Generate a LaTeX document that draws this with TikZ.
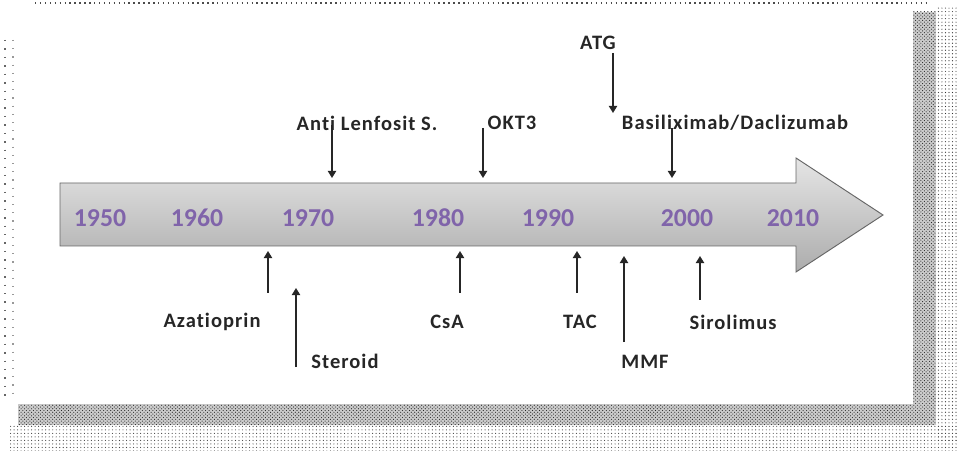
\documentclass[tikz,border=0pt]{standalone}
\usepackage{fontspec}
\setmainfont{Carlito}[Ligatures=NoCommon]
\usetikzlibrary{arrows.meta,patterns}
\definecolor{yrcol}{RGB}{128,100,170}
\begin{document}
\begin{tikzpicture}[x=0.03cm,y=-0.03cm,
 lbl/.style={font=\fontsize{17.5}{19}\selectfont\bfseries\addfontfeatures{LetterSpace=5}, text=black!85, inner sep=0pt},
 yr/.style={font=\fontsize{22}{24}\selectfont\bfseries, text=yrcol, inner sep=0pt},
 ptr/.style={line width=1.3pt, draw=black!85, -{Triangle[width=7pt,length=6pt]}}]
\useasboundingbox (0,0) rectangle (957,458);
\fill[white] (0,0) rectangle (957,458);
% halftone shadow
\fill[gray!40] (913,12) rectangle (936,404);
\fill[pattern=crosshatch dots, pattern color=black!85] (913,12) rectangle (936,404);
\fill[pattern=dots, pattern color=black!80] (936,8) rectangle (957,440);
\fill[gray!40] (18,404) rectangle (936,425);
\fill[pattern=crosshatch dots, pattern color=black!85] (18,404) rectangle (936,425);
\fill[pattern=dots, pattern color=black!75] (10,425) rectangle (957,450);
\draw[black!70, line width=1.2pt, dash pattern=on 1.2pt off 3pt] (35,3) -- (930,3);
\draw[black!60, line width=1.2pt, dash pattern=on 1.2pt off 6pt] (5,40) -- (5,400);
\draw[black!40, line width=1pt, dash pattern=on 1pt off 6pt] (13,40) -- (13,400);
% big timeline arrow
\path[top color=gray!20, middle color=white, bottom color=gray!65, draw=gray!80!black, line width=0.8pt]
  (60,183) -- (796,183) -- (796,158) -- (883,215) -- (796,272) -- (796,246) -- (60,246) -- cycle;
% years
\node[yr] (y1950) at (100,218) {1950};
\node[yr] (y1960) at (197,218) {1960};
\node[yr] (y1970) at (308,218) {1970};
\node[yr] (y1980) at (438,218) {1980};
\node[yr] (y1990) at (548,218) {1990};
\node[yr] (y2000) at (687,218) {2000};
\node[yr] (y2010) at (793,218) {2010};
% upper labels
\node[lbl] (als) at (367,123) {Anti Lenfosit S.};
\node[lbl] (okt) at (512,123) {OKT3};
\node[lbl] (atg) at (598,43) {ATG};
\node[lbl] (bas) at (735,123) {Basiliximab/Daclizumab};
\coordinate (alsA) at (332,125); \coordinate (alsB) at (332,178);
\coordinate (oktA) at (483,128); \coordinate (oktB) at (483,178);
\coordinate (atgA) at (613,53);  \coordinate (atgB) at (613,113);
\coordinate (basA) at (672,128); \coordinate (basB) at (672,178);
\draw[ptr] (alsA) -- (alsB);
\draw[ptr] (oktA) -- (oktB);
\draw[ptr] (atgA) -- (atgB);
\draw[ptr] (basA) -- (basB);
% lower labels
\node[lbl] (aza) at (212,322) {Azatioprin};
\node[lbl] (ste) at (345,361) {Steroid};
\node[lbl] (csa) at (447,322) {CsA};
\node[lbl] (tac) at (580,322) {TAC};
\node[lbl] (mmf) at (645,362) {MMF};
\node[lbl] (sir) at (733,322) {Sirolimus};
\coordinate (azaA) at (268,293); \coordinate (azaB) at (268,251);
\coordinate (steA) at (296,367); \coordinate (steB) at (296,288);
\coordinate (csaA) at (460,293); \coordinate (csaB) at (460,251);
\coordinate (tacA) at (577,293); \coordinate (tacB) at (577,251);
\coordinate (mmfA) at (624,342); \coordinate (mmfB) at (624,256);
\coordinate (sirA) at (700,300); \coordinate (sirB) at (700,256);
\draw[ptr] (azaA) -- (azaB);
\draw[ptr] (steA) -- (steB);
\draw[ptr] (csaA) -- (csaB);
\draw[ptr] (tacA) -- (tacB);
\draw[ptr] (mmfA) -- (mmfB);
\draw[ptr] (sirA) -- (sirB);
\end{tikzpicture}
\end{document}
